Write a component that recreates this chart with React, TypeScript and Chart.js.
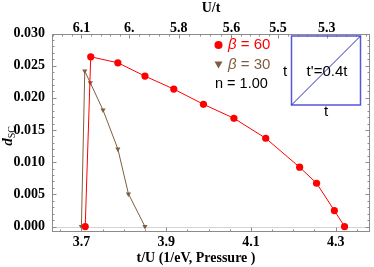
import React, { useEffect, useRef } from 'react';
import { Chart, registerables } from 'chart.js';
Chart.register(...registerables);

// t/U values and d_SC values
const beta60X = [3.709, 3.722, 3.786, 3.850, 3.918, 3.988, 4.060, 4.135, 4.215, 4.255, 4.297, 4.321];
const beta60Y = [0, 0.02638, 0.02545, 0.02338, 0.02136, 0.0190, 0.01682, 0.01372, 0.00922, 0.00673, 0.00248, 0];
const beta30X = [3.700, 3.708, 3.721, 3.751, 3.786, 3.811, 3.850];
const beta30Y = [0, 0.02416, 0.02234, 0.01811, 0.01205, 0.00507, 0];

const bottomTicks = [3.7, 3.9, 4.1, 4.3];
const leftTicks = [0, 0.005, 0.01, 0.015, 0.02, 0.025, 0.03];
const topTickPos = [3.700, 3.813, 3.930, 4.054, 4.164, 4.279];
const topTickLabels = ['6.1', '6.', '5.8', '5.6', '5.5', '5.3'];

const X_MIN = 3.6306;
const X_MAX = 4.3811;
const Y_MIN = -0.00085;
const Y_MAX = 0.030;

const RED = '#ff0000';
const BROWN = '#7d5f40';
const FRAME = '#8c8c8c';

const tickFont = { family: 'Liberation Serif', weight: 'bold' as const, size: 14 };

const decorPlugin = {
  id: 'decor',
  beforeDatasetsDraw(chart: any) {
    const { ctx, chartArea: a, scales } = chart;
    const y0 = Math.round(scales.y.getPixelForValue(0)) + 0.5;
    ctx.save();
    ctx.strokeStyle = '#d4d4d4';
    ctx.lineWidth = 1;
    ctx.beginPath();
    ctx.moveTo(a.left, y0);
    ctx.lineTo(a.right, y0);
    ctx.stroke();
    ctx.restore();
  },
  afterDraw(chart: any) {
    const { ctx, chartArea: a, scales } = chart;
    const L = Math.round(a.left) + 0.5;
    const R = Math.round(a.right) - 0.5;
    const T = Math.round(a.top) + 0.5;
    const B = Math.round(a.bottom) - 0.5;
    ctx.save();
    // frame
    ctx.strokeStyle = FRAME;
    ctx.lineWidth = 1;
    ctx.strokeRect(L, T, R - L, B - T);
    // ticks
    ctx.beginPath();
    // bottom
    for (let i = 73; i <= 87; i++) {
      const v = i * 0.05;
      const px = Math.round(scales.x.getPixelForValue(v)) + 0.5;
      if (px < L || px > R) continue;
      const major = bottomTicks.some((t) => Math.abs(t - v) < 1e-6);
      const len = major ? 4 : 2;
      ctx.moveTo(px, B);
      ctx.lineTo(px, B - len);
    }
    // left and right
    for (let i = 0; i <= 30; i++) {
      const v = i * 0.001;
      const py = Math.round(scales.y.getPixelForValue(v)) + 0.5;
      const major = i % 5 === 0;
      const len = major ? 4 : 2;
      ctx.moveTo(L, py);
      ctx.lineTo(L + len, py);
      ctx.moveTo(R, py);
      ctx.lineTo(R - len, py);
    }
    // top
    const tops: number[] = [];
    const n = topTickPos.length;
    for (let i = 0; i < n - 1; i++) {
      const d = (topTickPos[i + 1] - topTickPos[i]) / 5;
      for (let k = 1; k < 5; k++) tops.push(topTickPos[i] + k * d);
    }
    const d0 = (topTickPos[1] - topTickPos[0]) / 5;
    for (let k = 1; k < 5; k++) tops.push(topTickPos[0] - k * d0);
    const dn = (topTickPos[n - 1] - topTickPos[n - 2]) / 5;
    for (let k = 1; k < 5; k++) tops.push(topTickPos[n - 1] + k * dn);
    tops.forEach((v) => {
      const px = Math.round(scales.x2.getPixelForValue(v)) + 0.5;
      if (px < L || px > R) return;
      ctx.moveTo(px, T);
      ctx.lineTo(px, T + 2);
    });
    topTickPos.forEach((v) => {
      const px = Math.round(scales.x2.getPixelForValue(v)) + 0.5;
      ctx.moveTo(px, T);
      ctx.lineTo(px, T + 4);
    });
    ctx.stroke();

    // axis titles
    ctx.fillStyle = '#000';
    ctx.textAlign = 'center';
    ctx.textBaseline = 'middle';
    ctx.font = 'bold 14px "Liberation Serif"';
    ctx.fillText('U/t', (a.left + a.right) / 2, 8);
    ctx.fillText('t/U (1/eV, Pressure )', (a.left + a.right) / 2 - 15, 258);

    // y title
    ctx.save();
    ctx.translate(12, 136);
    ctx.rotate(-Math.PI / 2);
    ctx.textAlign = 'left';
    ctx.textBaseline = 'alphabetic';
    ctx.font = '10px "Liberation Serif"';
    const scW = ctx.measureText('SC').width;
    ctx.font = 'italic bold 15px "Liberation Serif"';
    const dw = ctx.measureText('d').width;
    const total = dw + scW;
    ctx.fillText('d', -total / 2, 0);
    ctx.font = '10px "Liberation Serif"';
    ctx.fillText('SC', -total / 2 + dw, 3);
    ctx.restore();

    // legend
    ctx.textAlign = 'left';
    ctx.textBaseline = 'middle';
    ctx.fillStyle = RED;
    ctx.beginPath();
    ctx.arc(218.5, 45, 4, 0, Math.PI * 2);
    ctx.fill();
    ctx.font = 'italic 15px "Liberation Sans"';
    ctx.fillText('β', 228, 45);
    const bw = ctx.measureText('β').width;
    ctx.font = '15px "Liberation Sans"';
    ctx.fillText(' = 60', 228 + bw, 45);

    ctx.fillStyle = BROWN;
    ctx.beginPath();
    ctx.moveTo(214.5, 61.5);
    ctx.lineTo(222.5, 61.5);
    ctx.lineTo(218.5, 68.5);
    ctx.closePath();
    ctx.fill();
    ctx.font = 'italic 15px "Liberation Sans"';
    ctx.fillText('β', 228, 65);
    ctx.font = '15px "Liberation Sans"';
    ctx.fillText(' = 30', 228 + bw, 65);

    ctx.fillStyle = '#000';
    ctx.font = '14.5px "Liberation Sans"';
    ctx.fillText('n = 1.00', 215, 84);

    // inset lattice
    ctx.strokeStyle = '#5656d8';
    ctx.lineWidth = 1.5;
    ctx.strokeRect(291.5, 36, 69, 69);
    ctx.strokeStyle = '#2a2ab8';
    ctx.lineWidth = 1;
    ctx.beginPath();
    ctx.moveTo(291.5, 105);
    ctx.lineTo(360.5, 36);
    ctx.stroke();
    ctx.fillStyle = '#000';
    ctx.textAlign = 'center';
    ctx.font = '15px "Liberation Sans"';
    ctx.fillText('t', 285, 72);
    ctx.fillText('t', 326, 112);
    ctx.fillText("t'=0.4t", 327, 72);
    ctx.restore();
  },
};

export default function App() {
  const ref = useRef<HTMLCanvasElement | null>(null);
  useEffect(() => {
    if (!ref.current) return;
    const chart = new Chart(ref.current, {
      type: 'line',
      data: {
        datasets: [
          {
            label: 'β = 60',
            data: beta60X.map((x, i) => ({ x, y: beta60Y[i] })),
            borderColor: RED,
            backgroundColor: RED,
            borderWidth: 1,
            pointStyle: 'circle',
            pointRadius: 3.6,
            pointBorderWidth: 0,
            tension: 0,
            xAxisID: 'x',
            yAxisID: 'y',
          },
          {
            label: 'β = 30',
            data: beta30X.map((x, i) => ({ x, y: beta30Y[i] })),
            borderColor: BROWN,
            backgroundColor: BROWN,
            borderWidth: 1,
            pointStyle: 'triangle',
            rotation: 180,
            pointRadius: 3,
            pointBorderWidth: 0,
            tension: 0,
            xAxisID: 'x',
            yAxisID: 'y',
          },
        ],
      },
      options: {
        animation: false,
        responsive: false,
        maintainAspectRatio: false,
        layout: { padding: { left: 0, right: 1, top: 0, bottom: 0 } },
        plugins: { legend: { display: false }, tooltip: { enabled: false } },
        scales: {
          x: {
            type: 'linear',
            position: 'bottom',
            min: X_MIN,
            max: X_MAX,
            grid: { display: false, drawTicks: false },
            border: { display: false },
            afterBuildTicks: (s: any) => { s.ticks = bottomTicks.map((v) => ({ value: v })); },
            ticks: {
              font: tickFont,
              color: '#000',
              padding: 2,
              maxRotation: 0,
              autoSkip: false,
              callback: (v: any) => Number(v).toFixed(1),
            },
            afterFit: (s: any) => { s.height = 35; },
          },
          x2: {
            type: 'linear',
            position: 'top',
            min: X_MIN,
            max: X_MAX,
            grid: { display: false, drawTicks: false },
            border: { display: false },
            afterBuildTicks: (s: any) => { s.ticks = topTickPos.map((v) => ({ value: v })); },
            ticks: {
              font: tickFont,
              color: '#000',
              padding: -3,
              maxRotation: 0,
              autoSkip: false,
              callback: (_v: any, i: number) => topTickLabels[i],
            },
            afterFit: (s: any) => { s.height = 33.5; },
          },
          y: {
            type: 'linear',
            min: Y_MIN,
            max: Y_MAX,
            grid: { display: false, drawTicks: false },
            border: { display: false },
            afterBuildTicks: (s: any) => { s.ticks = leftTicks.map((v) => ({ value: v })); },
            ticks: {
              font: tickFont,
              color: '#000',
              padding: 7,
              autoSkip: false,
              callback: (v: any) => Number(v).toFixed(3),
            },
            afterFit: (s: any) => { s.width = 52; },
          },
        },
      },
      plugins: [decorPlugin],
    } as any);
    return () => chart.destroy();
  }, []);
  return (
    <div style={{ position: 'fixed', left: 0, top: 0, width: 374, height: 267, background: '#fff' }}>
      <canvas ref={ref} width={374} height={267} style={{ width: 374, height: 267, display: 'block' }} />
    </div>
  );
}
